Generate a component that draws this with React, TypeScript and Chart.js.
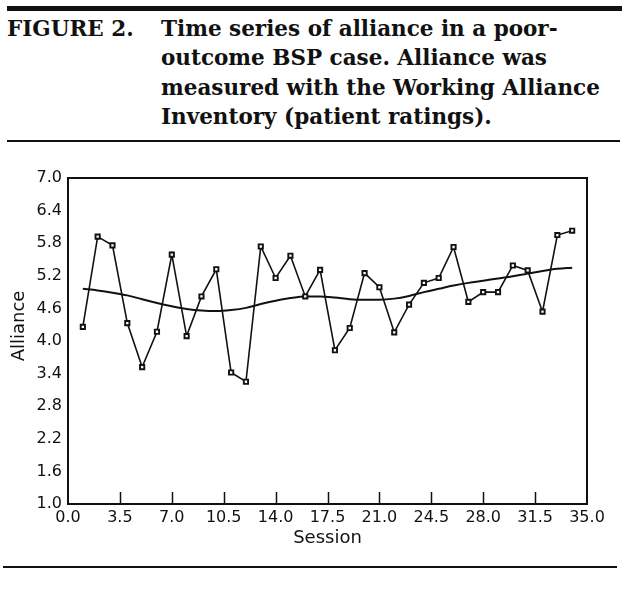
import React, { useEffect, useRef } from "react";
import { Chart, registerables } from "chart.js";

Chart.register(...registerables);

const sessions = [1, 2, 3, 4, 5, 6, 7, 8, 9, 10, 11, 12, 13, 14, 15, 16, 17, 18, 19, 20, 21, 22, 23, 24, 25, 26, 27, 28, 29, 30, 31, 32, 33, 34];
const alliance = [4.26, 5.92, 5.76, 4.33, 3.52, 4.17, 5.59, 4.09, 4.82, 5.32, 3.42, 3.25, 5.74, 5.16, 5.57, 4.82, 5.31, 3.83, 4.24, 5.25, 4.99, 4.16, 4.67, 5.07, 5.16, 5.73, 4.72, 4.9, 4.9, 5.39, 5.3, 4.54, 5.95, 6.03];
const trend = [4.96, 4.93, 4.89, 4.84, 4.77, 4.7, 4.64, 4.59, 4.56, 4.55, 4.57, 4.61, 4.68, 4.74, 4.79, 4.82, 4.82, 4.8, 4.77, 4.76, 4.76, 4.78, 4.83, 4.9, 4.96, 5.02, 5.07, 5.11, 5.15, 5.19, 5.24, 5.29, 5.33, 5.35];
const xTicks = [0, 3.5, 7, 10.5, 14, 17.5, 21, 24.5, 28, 31.5, 35];
const yTicks = [1.0, 1.6, 2.2, 2.8, 3.4, 4.0, 4.6, 5.2, 5.8, 6.4, 7.0];
const xTitle = "Session";
const yTitle = "Alliance";
const figLabel = "FIGURE 2.";
const captionLines = [
  "Time series of alliance in a poor-",
  "outcome BSP case. Alliance was",
  "measured with the Working Alliance",
  "Inventory (patient ratings).",
];

const INK = "#111";
const SANS = "'DejaVu Sans', sans-serif";

const framePlugin = {
  id: "frame",
  afterDraw(chart: any) {
    const { ctx, chartArea } = chart;
    const { left, right, top, bottom } = chartArea;
    const xs = chart.scales.x;
    ctx.save();
    ctx.strokeStyle = INK;
    ctx.lineWidth = 2;
    ctx.beginPath();
    ctx.rect(left, top, right - left, bottom - top);
    ctx.stroke();
    // inward x ticks
    ctx.lineWidth = 1.5;
    ctx.beginPath();
    xTicks.forEach((v) => {
      if (v === xs.min || v === xs.max) return;
      const px = Math.round(xs.getPixelForValue(v)) + 0.5;
      ctx.moveTo(px, bottom);
      ctx.lineTo(px, bottom - 12);
    });
    ctx.stroke();
    // y title
    ctx.fillStyle = INK;
    ctx.font = `18px ${SANS}`;
    ctx.textAlign = "center";
    ctx.textBaseline = "middle";
    ctx.translate(19, 176);
    ctx.rotate(-Math.PI / 2);
    ctx.fillText(yTitle, 0, 0);
    ctx.restore();
  },
};

function ChartView() {
  const ref = useRef<HTMLCanvasElement | null>(null);
  useEffect(() => {
    if (!ref.current) return;
    const chart = new Chart(ref.current, {
      type: "line",
      data: {
        datasets: [
          {
            label: "Alliance",
            data: sessions.map((s, i) => ({ x: s, y: alliance[i] })),
            borderColor: INK,
            borderWidth: 1.6,
            tension: 0,
            pointStyle: "rect",
            pointRadius: 3,
            pointBackgroundColor: "#fff",
            pointBorderColor: INK,
            pointBorderWidth: 1.9,
          },
          {
            label: "Trend",
            data: sessions.map((s, i) => ({ x: s, y: trend[i] })),
            borderColor: INK,
            borderWidth: 2,
            cubicInterpolationMode: "monotone",
            pointRadius: 0,
          },
        ],
      },
      options: {
        responsive: false,
        animation: false,
        layout: { padding: { top: 28, left: 0, right: 53, bottom: 0 } },
        plugins: { legend: { display: false }, tooltip: { enabled: false } },
        scales: {
          x: {
            type: "linear",
            min: 0,
            max: 35,
            grid: { display: false, drawTicks: false },
            border: { display: false },
            afterBuildTicks: (s: any) => {
              s.ticks = xTicks.map((v) => ({ value: v }));
            },
            afterFit: (s: any) => {
              s.height = 95;
            },
            ticks: {
              color: INK,
              font: { family: SANS, size: 16 },
              padding: 4,
              maxRotation: 0,
              autoSkip: false,
              callback: (v: any) => Number(v).toFixed(1),
            },
            title: {
              display: true,
              text: xTitle,
              color: INK,
              font: { family: SANS, size: 18 },
              padding: { top: 0, bottom: 50 },
            },
          },
          y: {
            type: "linear",
            min: 1,
            max: 7,
            grid: { display: false, drawTicks: false },
            border: { display: false },
            afterBuildTicks: (s: any) => {
              s.ticks = yTicks.map((v) => ({ value: v }));
            },
            afterFit: (s: any) => {
              s.width = 68;
            },
            ticks: {
              color: INK,
              font: { family: SANS, size: 16 },
              padding: 6,
              autoSkip: false,
              callback: (v: any) => Number(v).toFixed(1),
            },
          },
        },
      },
      plugins: [framePlugin],
    } as any);
    return () => chart.destroy();
  }, []);
  return <canvas ref={ref} width={640} height={449} style={{ position: "absolute", left: 0, top: 150, width: 640, height: 449 }} />;
}

export default function App() {
  const serif: React.CSSProperties = {
    fontFamily: "'DejaVu Serif', serif",
    fontWeight: "bold",
    fontSize: "21.5px",
    lineHeight: "29.3px",
    color: INK,
    whiteSpace: "nowrap",
    position: "absolute",
  };
  return (
    <div style={{ position: "absolute", left: 0, top: 0, width: 640, height: 599, background: "#fff", overflow: "hidden" }}>
      <div style={{ position: "absolute", left: 7, top: 6, width: 615, height: 4.5, background: INK }} />
      <div style={{ ...serif, left: 7, top: 14 }}>{figLabel}</div>
      <div style={{ ...serif, left: 161, top: 14 }}>
        {captionLines.map((l, i) => (
          <div key={i}>{l}</div>
        ))}
      </div>
      <div style={{ position: "absolute", left: 7, top: 140, width: 613, height: 2, background: INK }} />
      <ChartView />
      <div style={{ position: "absolute", left: 3, top: 566, width: 614, height: 2, background: INK }} />
    </div>
  );
}
